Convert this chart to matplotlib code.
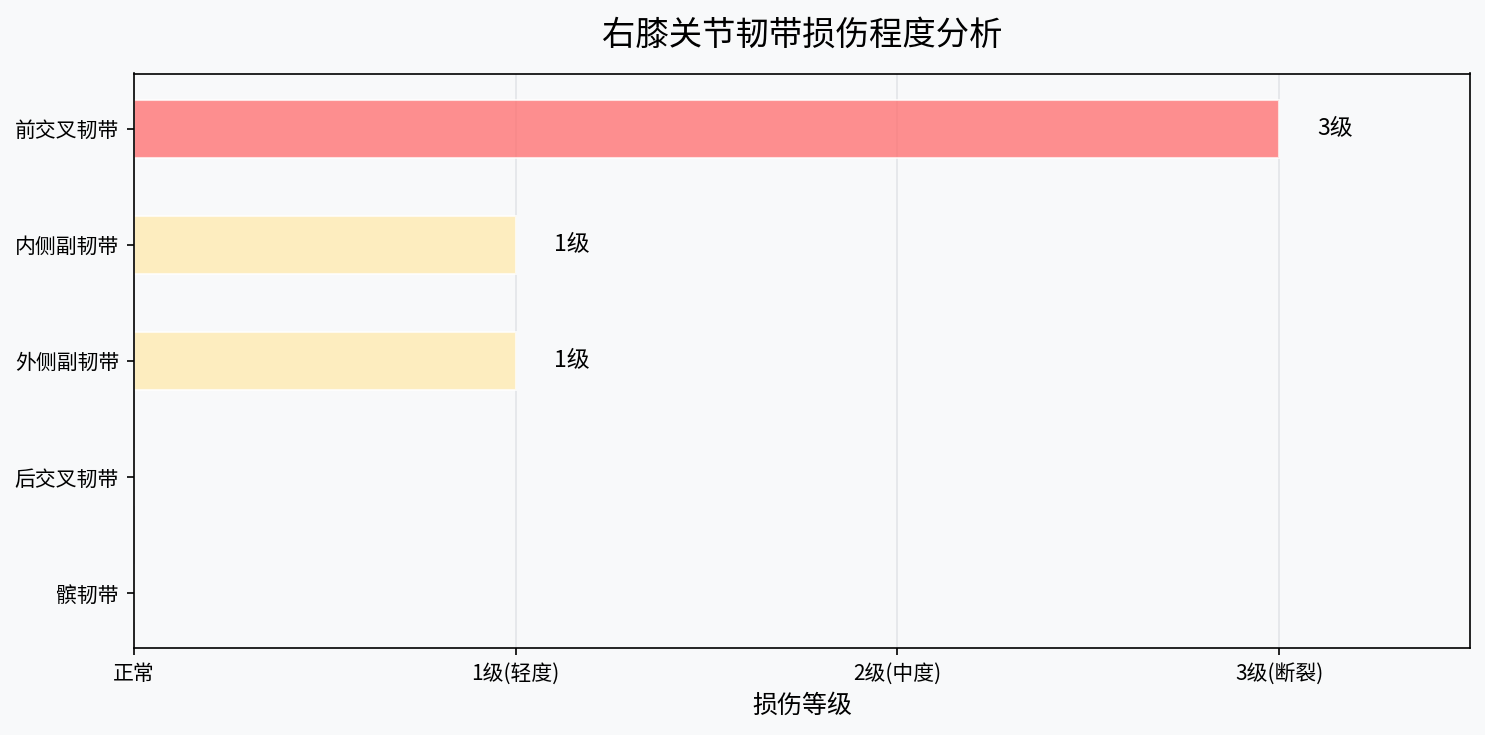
import matplotlib
matplotlib.use('Agg')
import matplotlib.pyplot as plt

plt.rcParams['font.family'] = ['Noto Sans CJK SC', 'DejaVu Sans']

# data
ligaments = ['前交叉韧带', '内侧副韧带', '外侧副韧带', '后交叉韧带', '髌韧带']
grades = [3, 1, 1, 0, 0]
grade_ticks = [0, 1, 2, 3]
grade_labels = ['正常', '1级(轻度)', '2级(中度)', '3级(断裂)']
grade_colors = {0: '#C8EBD0', 1: '#FFEAAB', 2: '#FFB070', 3: '#FF6B6B'}

fig, ax = plt.subplots(figsize=(9.9, 4.9), dpi=150)
fig.patch.set_facecolor('#F8F9FA')
ax.set_facecolor('#F8F9FA')

colors = [grade_colors[g] for g in grades]
ax.barh(ligaments, grades, height=0.5, color=colors, alpha=0.75,
        edgecolor='white', linewidth=1, zorder=2)
ax.invert_yaxis()

for i, g in enumerate(grades):
    if g > 0:
        ax.text(g + 0.1, i, f'{g}级', va='center', ha='left', fontsize=11)

ax.set_xlim(0, 3.5)
ax.set_xticks(grade_ticks)
ax.set_xticklabels(grade_labels, fontsize=10)
ax.tick_params(axis='y', labelsize=10)
ax.set_xlabel('损伤等级', fontsize=12)
ax.set_title('右膝关节韧带损伤程度分析', fontsize=16, pad=14)
ax.grid(axis='x', color='#E3E5E8', linewidth=0.8, zorder=0)
ax.set_axisbelow(True)

plt.subplots_adjust(left=0.09, right=0.99, top=0.90, bottom=0.118)
plt.savefig('out.png', dpi=150, facecolor=fig.get_facecolor())
